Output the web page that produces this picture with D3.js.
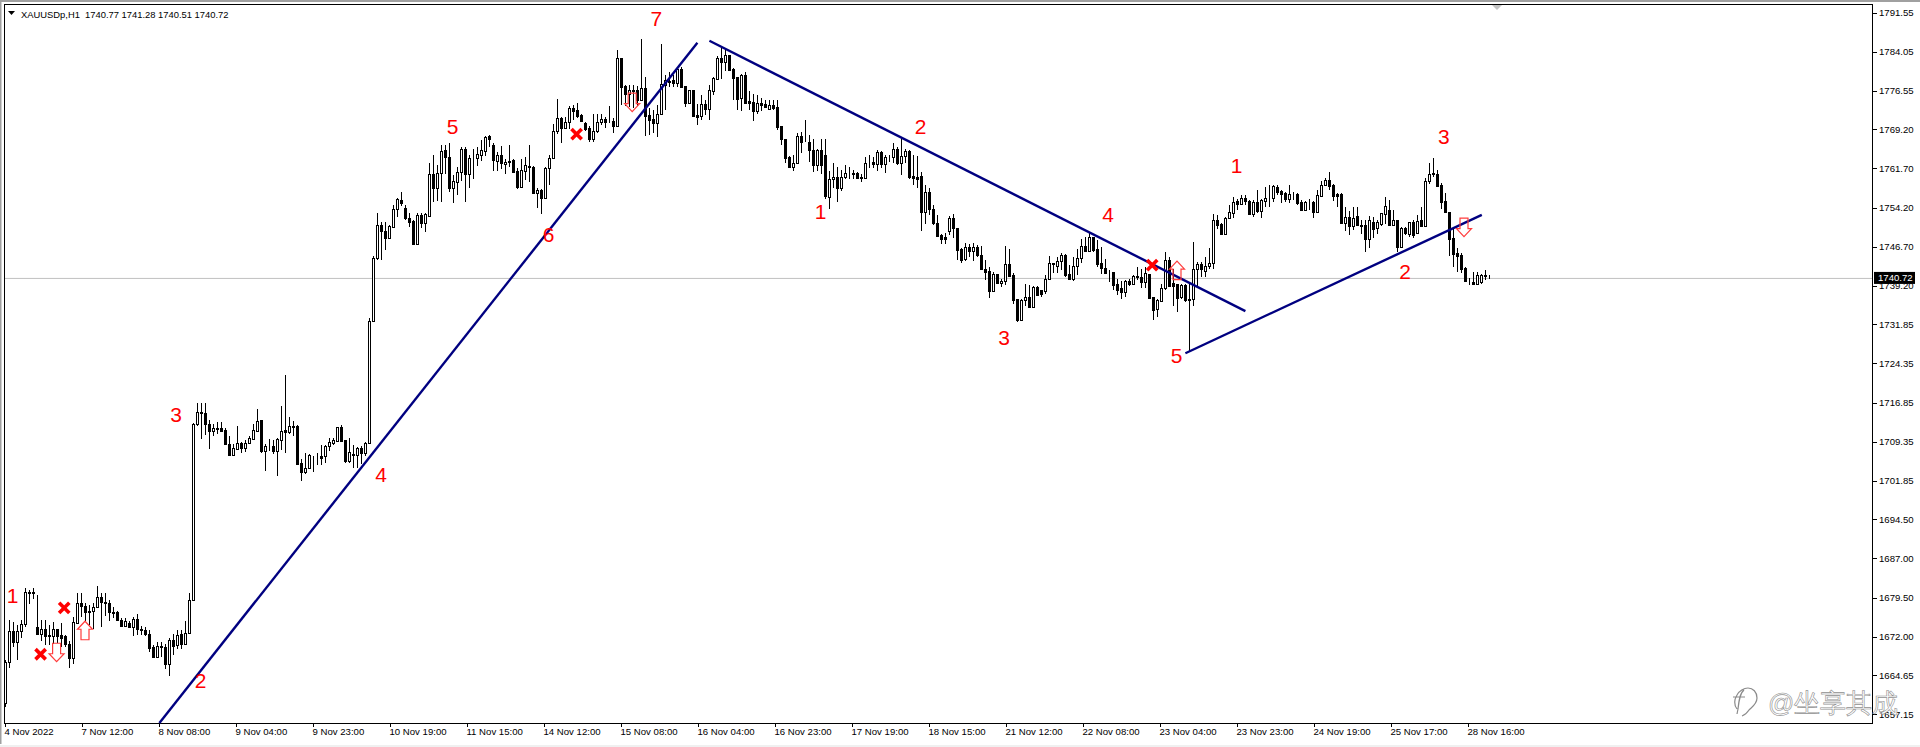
<!DOCTYPE html>
<html><head><meta charset="utf-8">
<script src="https://cdn.jsdelivr.net/npm/d3@7"></script>
<style>
html,body{margin:0;padding:0;background:#fff;overflow:hidden}
svg{display:block}
text{font-family:"Liberation Sans",Arial,sans-serif}
</style></head><body><div id="chart"></div>
<script>
// Each bar: [open, high, low, close]
const barsNov4to8 = [
[1659.3,1667.6,1658.6,1667.2],[1667.2,1675.3,1666.1,1673.1],[1673.1,1674.8,1670,1671],[1671,1674.2,1667.5,1673.1],[1673.1,1675.2,1671.8,1674.4],[1674.4,1681.4,1673.8,1680.5],[1680.6,1680.9,1678.2,1680.4],[1680.5,1681.4,1679.3,1680.3],[1673.9,1680,1672.5,1672.6],[1672.6,1675.2,1671.2,1673.4],
[1673.4,1675.2,1670.4,1672.1],[1672.4,1674.2,1670.4,1672.2],[1672.2,1674.8,1670.7,1673.4],[1673.4,1673.4,1670.8,1672.1],[1672.4,1674.6,1670,1671.8],[1672.1,1672.3,1670,1670.7],[1670.7,1671.2,1666,1668],[1668,1675.8,1666.7,1674.8],[1674.7,1680.4,1674.4,1678.4],[1678.4,1680.3,1675.8,1677.8],
[1677.8,1678.4,1675,1676.8],[1677,1678,1674.2,1676.8],[1676.9,1678.4,1673.4,1677.7],[1677.7,1681.7,1677.6,1679.6],[1679.6,1680.3,1673.8,1678.7],[1678.7,1680.3,1675.9,1678.4],[1678.4,1679,1675,1676.8],[1676.8,1677.7,1675.5,1676.6],[1676.7,1677,1675,1675.3],[1675.3,1675.5,1673.9,1674],
[1674,1675.5,1673.9,1675],[1674.7,1675,1673.8,1673.9],[1673.9,1675.8,1672.1,1675.4],[1675.4,1676.3,1672.3,1673.4],[1673.4,1674,1672.3,1673.2],[1673.2,1673.8,1672.1,1672.6],[1672.6,1673.2,1669.1,1669.9],[1670,1670.4,1668,1668.1],[1668.1,1671,1668,1670.2],[1670.2,1671,1668.1,1670],
[1670,1670.7,1665.9,1666.7],[1666.7,1671.7,1664.4,1671.3],[1671.3,1672.5,1668.5,1670.2],[1670.4,1673.2,1669.7,1672.4],[1672.6,1673.2,1669.7,1670.6],[1670.6,1675,1670.5,1672.8],[1672.7,1680.3,1672.6,1679],[1679,1712.9,1678.8,1712.8]
];
const barsNov8to10 = [
[1712.8,1716.7,1712.3,1715],[1715,1716.8,1709.9,1714.8],[1714.8,1716.7,1710.6,1712.8],[1712.8,1713.6,1708,1711.4],[1711.4,1712.8,1710.4,1711.9],[1712,1713.1,1710.9,1711.8],[1711.9,1713.2,1711.2,1711.4],[1711.6,1711.9,1708.7,1708.9],[1709,1710.4,1706.8,1706.8],[1706.9,1709,1706.8,1708.1],
[1708,1712.3,1708,1709.2],[1709.2,1709.3,1707.2,1708.1],[1708.1,1709.6,1707.4,1709.2],[1709.1,1710.4,1709,1710],[1709.9,1712.7,1709.8,1711.6],[1711.4,1715.7,1711.2,1713.4],[1713.5,1713.6,1707.1,1707.6],[1707.6,1709,1703.8,1708.6],[1708.6,1709.8,1707.6,1708.6],[1708.6,1709.6,1707,1707.6],
[1707.6,1710,1702.7,1709.8],[1709.6,1716.2,1707.7,1711.4],[1711.5,1722.1,1707.2,1711.3],[1711.2,1714.1,1710.9,1712.3],[1712.3,1713.3,1710.4,1712.2],[1712.3,1712.5,1704.8,1705],[1705.2,1706.1,1701.8,1703.6],[1703.5,1707.2,1703.2,1704.4],[1704.4,1707,1704.2,1706.8],[1706.5,1706.6,1703.6,1706.4],
[1706.6,1707.1,1704.9,1706.6],[1706.6,1708.7,1704.9,1706.3],[1706.6,1708.8,1705.2,1708.6],[1708.5,1710,1707.6,1709.3],[1709.1,1710,1708.7,1709.6],[1709.4,1712.2,1709.3,1712.1],[1712.1,1712.5,1709.5,1709.5],[1709.6,1709.6,1705.2,1705.7],[1705.6,1710,1705.2,1707.3],[1707,1708.7,1704.4,1706.9],
[1706.8,1708.4,1704.4,1708.1],[1708.1,1708.5,1705,1707.2],[1707.2,1709.3,1706.6,1709.2],[1709.1,1733,1709,1732.4],[1732.4,1745,1732.2,1744.5]
];
const barsNov10to15 = [
[1744.6,1753.1,1744.1,1750.8],[1750.8,1751.5,1744.1,1749.8],[1749.8,1751.5,1746,1748.3],[1748.3,1750.8,1748.2,1750.6],[1750.5,1754.7,1750.4,1754],[1754,1756.1,1752.4,1755.75],[1755.6,1757.1,1754.4,1755.1],[1754.2,1754.7,1751.9,1752.1],[1752.1,1753.1,1750.4,1751.5],[1751.7,1751.9,1747,1747.2],
[1747.3,1753.1,1747.2,1752.8],[1752.8,1753.2,1750.2,1751.2],[1751.2,1753.2,1749.6,1752.9],[1752.6,1762.8,1752.4,1760.6],[1760.6,1764.2,1755.3,1757.9],[1757.9,1762.3,1755.5,1760.9],[1760.9,1766.2,1755.3,1765.1],[1765.2,1766.2,1760.7,1763.8],[1763.8,1766.5,1757.2,1758],[1758,1760.4,1755,1759.2],
[1759.1,1761.9,1756.6,1761.1],[1761,1765.8,1759.3,1765.5],[1765.5,1765.7,1755.3,1760.7],[1760.7,1764.2,1758,1763.6],[1763.6,1765.5,1759.6,1763.6],[1763.6,1765.7,1762.1,1764.4],[1764.2,1767.2,1763.2,1765.2],[1765.1,1767.9,1764,1767.8],[1767.9,1768.1,1765.7,1767.4],[1766.2,1766.6,1761.2,1763.3],
[1763.2,1764.9,1761.2,1764.2],[1764.2,1765.97,1761.5,1762.65],[1762.6,1763.4,1760.7,1763],[1763.2,1766.2,1761.9,1763],[1763.3,1763.4,1760.9,1761],[1761.2,1761.7,1757.7,1758.2],[1758.2,1763.4,1758,1761.4],[1761.2,1763.9,1759.5,1762.3],[1762.1,1766.2,1759.1,1761.9],[1762,1762.1,1756.9,1757],
[1756.9,1757.9,1754.2,1757.5],[1757.5,1757.7,1752.9,1756],[1756,1762,1755.9,1761.7],[1761.7,1764.2,1758.5,1763.6],[1763.6,1770.2,1763.4,1768.9],[1768.9,1774.9,1768.3,1771.3],[1771.3,1771.6,1766.5,1769.4],[1769.4,1771.6,1769.3,1770.6],[1770.6,1773.6,1769.2,1773.2],[1773.2,1773.8,1771,1772.7],
[1772.9,1774.3,1771.3,1771.7],[1771.9,1772.2,1770.6,1770.8],[1770.3,1770.6,1768.9,1769.2],[1769.4,1769.8,1766.8,1767.4],[1767.4,1772.2,1766.8,1768.9],[1768.9,1772.2,1768.4,1770.6],[1770.6,1772.2,1770,1771.1],[1771.1,1771.6,1769.4,1770.6],[1770.7,1773.6,1770.3,1770.7],[1770.7,1771.3,1768.4,1769.9]
];
const barsNov15to17 = [
[1769.8,1784.4,1769.8,1782.8],[1782.9,1782.9,1773.8,1777.3],[1777.5,1777.7,1773.6,1775.9],[1775.9,1777.7,1773.4,1776.7],[1776.7,1777.7,1773.2,1776.6],[1776.7,1777.5,1773.6,1774.8],[1774.8,1786.4,1774.8,1777],[1777,1779.2,1767.9,1771.7],[1771.9,1773.2,1768.1,1771],[1771.1,1772.9,1768.4,1770.3],
[1770.3,1773.8,1767.8,1772.2],[1772.2,1785.6,1772.2,1777.8],[1777.7,1779.6,1772.9,1778.6],[1778.4,1780.2,1777.3,1778.2],[1778.6,1779.6,1777.3,1778.1],[1778.1,1780.8,1777.3,1780.7],[1780.7,1781.2,1777,1777.3],[1777.4,1777.5,1773.4,1774.3],[1774.3,1776.8,1774.1,1776.7],[1776.7,1776.8,1771.5,1771.7],
[1771.9,1774.1,1770,1771.6],[1771.7,1775.7,1770.9,1774],[1774,1774.8,1771.9,1773],[1773.1,1777.7,1770.9,1776.7],[1776.6,1779.2,1775.7,1779],[1778.9,1783.2,1778.7,1782.8],[1782.8,1784.7,1778.9,1782.1],[1782.1,1784.5,1780.4,1783.4],[1783.4,1783.4,1780.4,1780.5],[1780.7,1781,1774.8,1779.1],
[1779.2,1779.2,1772.9,1774.9],[1775.1,1779.8,1772.7,1779.6],[1779.6,1780.2,1774,1774.3],[1774.6,1776.6,1772.9,1774.3],[1774.5,1775.9,1770.8,1772.7],[1772.7,1775.7,1772.2,1774.3],[1774.3,1775.1,1772.7,1773.8],[1774.1,1774.8,1773.2,1773.5],[1773,1774.7,1772.9,1773.8],[1773.8,1774.8,1772.9,1773.3],
[1773.4,1774.8,1769,1769.7],[1769.8,1769.8,1766.2,1767.3],[1767.4,1767.4,1762.8,1763.7],[1763.9,1764.05,1761.9,1762],[1762,1764.2,1761.2,1762.8],[1762.8,1768.4,1762.6,1767.9],[1767.9,1768.7,1764.7,1766.8],[1766.8,1770.9,1766.8,1766.8],[1766.8,1768.1,1763,1765.2],[1765.3,1767.4,1761,1762.3],
[1762.3,1765.5,1761.2,1765.3],[1765.3,1767.4,1760.7,1762.3]
];
const barsNov17to22 = [
[1764.2,1767.4,1755.9,1756.4],[1756.3,1761.2,1754,1759.6],[1759.6,1762.8,1757.9,1760],[1760.1,1761.9,1755.3,1757.9],[1757.9,1761.4,1757.4,1760.1],[1760,1762.3,1759.6,1760.9],[1760.7,1762,1759.6,1760.7],[1760.8,1761.4,1759.6,1760.7],[1760.9,1761.05,1759.8,1759.9],[1760,1760.7,1759.1,1759.8],
[1759.8,1763.8,1759.7,1762.8],[1762.8,1764.2,1761.7,1762.8],[1763,1763.9,1761.7,1762.6],[1762.6,1765.3,1761.2,1764.8],[1764.8,1765.1,1761.7,1762.5],[1762.5,1764.2,1760.9,1763.8],[1763.8,1764.2,1762.97,1763.8],[1763.8,1766.6,1762.8,1765.5],[1765.5,1765.7,1762.3,1762.65],[1762.7,1767.8,1760.4,1764.05],
[1764,1765.5,1762.8,1765],[1765,1765.2,1759.6,1760],[1760.2,1764.2,1758.5,1759.9],[1760,1764.05,1757.9,1759.65],[1760.2,1761,1749.75,1753.4],[1753.4,1758.5,1751,1757.1],[1757.2,1757.9,1752.75,1754],[1754,1754.7,1750.8,1751.15],[1751.15,1752.75,1748.7,1748.8],[1748.85,1749.2,1747.2,1748.15],
[1748.6,1749.4,1747.3,1748.2],[1749.75,1752.55,1748.9,1752.1],[1752.1,1752.95,1748.3,1750.2],[1750.2,1750.2,1744.1,1746.05],[1746.2,1746.4,1743.6,1744.1],[1744.25,1747.45,1744,1746.55],[1746.55,1747.3,1744.65,1745.9],[1745.9,1747.45,1744,1746.55],[1746.7,1747,1744.8,1745.1],[1745.1,1746.8,1742.2,1742.4],
[1742.4,1744.1,1740.4,1741.9],[1742,1742.85,1736.8,1738.25],[1738.25,1741.9,1738.05,1741.55],[1741.55,1741.55,1739.65,1739.8],[1739.8,1740.6,1739,1740.2],[1740.2,1746.8,1739.3,1743.35],[1743.35,1746.35,1740.9,1741.05],[1741.25,1741.7,1735.8,1736.45],[1736.6,1736.6,1732.3,1732.75],[1732.75,1736.6,1732.6,1736.45],
[1736.4,1739.5,1735.3,1737],[1737,1739.35,1735.2,1735.2],[1735.2,1739.15,1735.2,1739],[1739,1739.15,1737.4,1737.4],[1738.4,1738.5,1737.1,1737.6],[1738.2,1741.25,1737.6,1740.6],[1740.6,1744.9,1740.3,1743.5],[1743.5,1743.6,1741.7,1743.3],[1743.05,1744.8,1741.7,1744.05],[1744,1745.5,1742.2,1745.1],
[1745.1,1745.3,1740.9,1741.25],[1741.45,1743.2,1740.4,1740.6],[1740.6,1744.8,1740.2,1743],[1743,1746.2,1741.25,1744.45],[1744.45,1748.1,1743.6,1746.8],[1746.8,1748.6,1745.7,1745.9],[1745.9,1749.4,1745.7,1748.6],[1748.5,1748.6,1745.7,1746.05],[1746.2,1747.95,1742.85,1743.35]
];
const barsNov22to24 = [
[1743.6,1746.6,1741.45,1742.7],[1742.7,1744.3,1741.45,1741.6],[1741.85,1742.2,1740,1741.8],[1741.85,1741.9,1738.5,1739.35],[1739.5,1740.6,1737.4,1738.4],[1738.7,1740.2,1736.7,1738.05],[1738.05,1740.4,1737.1,1740.2],[1740.2,1740.6,1739.15,1739.55],[1739.55,1741.25,1739.35,1741.05],[1741,1742.85,1740.3,1740.9],
[1740.9,1742.5,1738.7,1740],[1740,1742.85,1738.7,1741.6],[1741.45,1741.45,1736.6,1736.8],[1737,1737,1732.65,1734.55],[1734.75,1736.6,1733.15,1736.5],[1736.35,1739.65,1736.15,1738.7],[1738.7,1745.7,1738.5,1744.1],[1744.1,1744.8,1738.9,1739.15],[1739.7,1742.5,1735.3,1739.15],[1739.55,1739.65,1734.25,1736.9],
[1736.98,1739.65,1736.6,1739.3],[1739.35,1739.5,1736.15,1736.5],[1736.6,1739.5,1726.6,1736.5],[1736.6,1747.65,1735.3,1742.5],[1742.5,1743.8,1739,1743.3],[1743.3,1743.8,1740.95,1742.4],[1742.1,1744.65,1740.95,1743.05],[1743,1746.4,1742.5,1743.5],[1743.5,1753.05,1742.5,1751.8],[1751.8,1752.75,1750,1750.85],
[1751,1751.3,1748.9,1749.1],[1749.1,1752.4,1748.9,1752.1],[1752.1,1754.65,1752.1,1753.25],[1753.2,1756.25,1752.1,1755.3],[1755.4,1755.75,1753.7,1754.85],[1754.85,1756.6,1754.65,1756.1],[1756.1,1756.6,1754.65,1755.5],[1755.5,1755.6,1752.95,1753.05],[1753.05,1755.6,1752.4,1755.3],[1755.3,1757.5,1753.2,1753.5],
[1753.6,1755.9,1752.2,1755.6],[1755.5,1758.2,1754.35,1756.1],[1756.1,1758.5,1754.35,1756.1],[1756.1,1758.5,1755.3,1758.3],[1758.2,1758.5,1756.6,1757.2],[1757.4,1757.65,1755,1756.75],[1757,1757.2,1755.3,1755.9],[1755.9,1758.5,1755,1756.75],[1756.8,1757.2,1755.6,1756.8],[1756.75,1757,1754.65,1755.1]
];
const barsNov24to28 = [
[1755.3,1755.6,1753.7,1753.7],[1753.7,1755.5,1753.7,1755.3],[1755.2,1755.9,1753.8,1755.2],[1755.3,1755.5,1752.2,1753.3],[1753.3,1757.5,1753.2,1756.6],[1756.4,1759.3,1756.25,1758.5],[1758.5,1759.8,1758.3,1759.45],[1759.45,1761,1757.65,1758.4],[1758.5,1758.8,1755.5,1756.4],[1756.75,1757,1754.35,1756.45],
[1756.75,1756.9,1751.3,1751.3],[1751.3,1754.35,1749.7,1752.3],[1752.3,1753.6,1748.9,1750.65],[1750.65,1754.35,1749.9,1752.2],[1752.5,1754.35,1750.65,1750.8],[1750.95,1751.9,1749.1,1750.7],[1750.8,1751.8,1745.7,1748.1],[1748.2,1752.6,1746.4,1751.8],[1751.5,1752.4,1748.3,1750.1],[1750.2,1751.8,1749.2,1751.4],
[1751,1753.2,1750.6,1753.1],[1752.9,1756.3,1751,1754.5],[1753.8,1755.6,1750.8,1750.8],[1750.8,1753.7,1750.6,1751.8],[1751.8,1751.9,1745.7,1746.7],[1746.7,1750.5,1746.6,1750.2],[1750.3,1750.5,1748.9,1749.4],[1749.2,1751.5,1748.6,1751.4],[1751.4,1751.8,1748.3,1748.9],[1749.4,1752.75,1749.2,1751.65],
[1751.8,1754.35,1750.4,1750.65],[1750.65,1759.8,1750.5,1759.2],[1759.2,1762.65,1758.8,1760.7],[1760.8,1763.6,1760.1,1760.6],[1760.6,1761.4,1758.3,1758.4],[1758.5,1758.9,1754,1755.3],[1755.4,1756.9,1753.1,1753.4],[1753.4,1753.4,1744.9,1748.2],[1748.3,1750.2,1742.85,1745.3],[1745.4,1746.4,1741.9,1745],
[1745.1,1745.4,1741.7,1742.5],[1742.65,1742.85,1740.15,1740.15],[1740.2,1740.8,1739.3,1740.1],[1740,1741.9,1739.5,1739.65],[1739.65,1741.9,1739.5,1741.25],[1739.9,1741.4,1739.5,1741.2],[1741.2,1742.3,1740.3,1741],[1740.77,1741.28,1740.51,1740.72]
];
const priceTicks = ["1791.55","1784.05","1776.55","1769.20","1761.70","1754.20","1746.70","1739.20","1731.85","1724.35","1716.85","1709.35","1701.85","1694.50","1687.00","1679.50","1672.00","1664.65","1657.15"];
const timeLabels = ["4 Nov 2022","7 Nov 12:00","8 Nov 08:00","9 Nov 04:00","9 Nov 23:00","10 Nov 19:00","11 Nov 15:00","14 Nov 12:00","15 Nov 08:00","16 Nov 04:00","16 Nov 23:00","17 Nov 19:00","18 Nov 15:00","21 Nov 12:00","22 Nov 08:00","23 Nov 04:00","23 Nov 23:00","24 Nov 19:00","25 Nov 17:00","28 Nov 16:00"];
const lastPrice = 1740.72;
const chartTitle = "XAUUSDp,H1  1740.77 1741.28 1740.51 1740.72";
// Trend lines: [bar, price, bar, price]
const trendLines = [[38.6,1655.5,173.1,1785.76],[176.1,1786.14,310.1,1734.36],[295.1,1726.3,369.2,1752.8]];
// Wave labels: [bar, price, text]
const waveLabels = [[1.9,1679.96,"1"],[48.9,1663.67,"2"],[42.75,1714.63,"3"],[94,1703.14,"4"],[111.9,1769.67,"5"],[135.9,1749.11,"6"],[162.85,1790.49,"7"],[203.9,1753.38,"1"],[228.9,1769.67,"2"],[249.75,1729.38,"3"],[275.8,1752.94,"4"],[292.9,1725.93,"5"],[307.9,1762.2,"1"],[350,1741.89,"2"],[359.7,1767.89,"3"]];
const crossMarks = [[8.9,1668.65],[14.8,1677.52],[142.9,1768.27],[286.8,1743.17]];
const arrowMarks = [[12.9,1668.94,"down"],[20,1673.25,"up"],[156.8,1774.3,"down"],[293,1742.22,"up"],[364.75,1750.36,"down"]];
const watermark = "@坐享其成";

const candles = [...barsNov4to8,...barsNov8to10,...barsNov10to15,...barsNov15to17,...barsNov17to22,...barsNov22to24,...barsNov24to28];

const W=1920,H=747, frame={l:4,t:4,r:1872,b:723};
const svg=d3.select("#chart").append("svg").attr("width",W).attr("height",H);
const x=d3.scaleLinear().domain([0,371]).range([5,1489]);
const y=d3.scaleLinear().domain([1791.55,1657.15]).range([12.5,714.3]);
const xAxisScale=d3.scalePoint().domain(timeLabels).range([5,1468]);
const px=v=>Math.round(v);

// window chrome
svg.append("rect").attr("width",W).attr("height",H).attr("fill","#fff");
svg.append("rect").attr("width",W).attr("height",2).attr("fill","#a0a0a0");
svg.append("rect").attr("width",1.5).attr("height",H-3).attr("fill","#a0a0a0");
svg.append("rect").attr("y",H-2).attr("width",W).attr("height",2).attr("fill","#f0f0f0");

// price line
svg.append("line").attr("x1",frame.l).attr("x2",frame.r).attr("y1",y(lastPrice)+.5).attr("y2",y(lastPrice)+.5).attr("stroke","#c0c0c0").attr("stroke-width",1);

// chart-shift marker
svg.append("path").attr("d",d3.line()([[1491,4],[1503,4],[1497,10]])+"Z").attr("fill","#c4c4c4");

// candles
const g=svg.append("g").attr("shape-rendering","crispEdges");
const c=g.selectAll("g").data(candles).join("g");
c.append("line").attr("x1",(d,i)=>px(x(i))+.5).attr("x2",(d,i)=>px(x(i))+.5)
 .attr("y1",d=>y(d[1])).attr("y2",d=>y(d[2])).attr("stroke","#000");
c.append("rect").attr("x",(d,i)=>px(x(i))-.5).attr("width",2)
 .attr("y",d=>px(y(Math.max(d[0],d[3])))+.5)
 .attr("height",d=>Math.max(px(y(Math.min(d[0],d[3])))-px(y(Math.max(d[0],d[3]))),0))
 .attr("fill",d=>d[3]>=d[0]?"#fff":"#000").attr("stroke","#000");

// frame
svg.append("rect").attr("x",frame.l+.5).attr("y",frame.t+.5).attr("width",frame.r-frame.l).attr("height",frame.b-frame.t)
 .attr("fill","none").attr("stroke","#000").attr("shape-rendering","crispEdges");

// trend lines
svg.append("g").selectAll("line").data(trendLines).join("line")
 .attr("x1",d=>x(d[0])).attr("y1",d=>y(d[1])).attr("x2",d=>x(d[2])).attr("y2",d=>y(d[3]))
 .attr("stroke","#000080").attr("stroke-width",2.4);

// crosses
svg.append("g").selectAll("path").data(crossMarks).join("path")
 .attr("d",d3.symbol(d3.symbolX,70)).attr("transform",d=>`translate(${x(d[0])},${y(d[1])})`)
 .attr("fill","none").attr("stroke","#ff0000").attr("stroke-width",3.6);

// arrows
const arrowPath=d3.line()([[-4,-9.5],[4,-9.5],[4,1],[7.5,1],[0,9],[-7.5,1],[-4,1]])+"Z";
svg.append("g").selectAll("path").data(arrowMarks).join("path")
 .attr("d",arrowPath).attr("transform",d=>`translate(${x(d[0])},${y(d[1])})${d[2]==="up"?" rotate(180)":""}`)
 .attr("fill","none").attr("stroke","#ff3c3c").attr("stroke-width",1.2);

// wave labels
svg.append("g").selectAll("text").data(waveLabels).join("text")
 .attr("x",d=>x(d[0])).attr("y",d=>y(d[1])).attr("dy","0.36em").attr("text-anchor","middle")
 .attr("font-size",21).attr("fill","#ff0000").text(d=>d[2]);

// axes
const yAxis=d3.axisRight(y).tickValues(priceTicks.map(Number)).tickFormat(d=>d.toFixed(2)).tickSize(4).tickSizeOuter(0);
const ya=svg.append("g").attr("transform",`translate(${frame.r+.5},0)`).call(yAxis);
ya.select(".domain").remove();
ya.selectAll("line").attr("stroke","#000").attr("shape-rendering","crispEdges");
ya.selectAll("text").attr("x",6.5).attr("font-size",9.6).attr("fill","#000").attr("font-family","Liberation Sans");

const xAxis=d3.axisBottom(xAxisScale).tickSize(3).tickSizeOuter(0);
const xa=svg.append("g").attr("transform",`translate(0,${frame.b+.5})`).call(xAxis);
xa.select(".domain").remove();
xa.selectAll("line").attr("stroke","#000").attr("shape-rendering","crispEdges");
xa.selectAll("text").attr("text-anchor","start").attr("dx",-1).attr("y",5).attr("font-size",9.6).attr("fill","#000").attr("font-family","Liberation Sans");

// price tag
svg.append("rect").attr("x",1874).attr("y",y(lastPrice)-6).attr("width",41).attr("height",12).attr("fill","#000");
svg.append("text").attr("x",1878).attr("y",y(lastPrice)).attr("dy","0.36em").attr("font-size",9.6).attr("fill","#fff").text(lastPrice.toFixed(2));

// title
svg.append("path").attr("d",d3.line()([[8,11],[15,11],[11.5,15]])+"Z").attr("fill","#000");
svg.append("text").attr("x",21).attr("y",17.5).attr("font-size",9.4).attr("fill","#000").attr("xml:space","preserve").style("white-space","pre").text(chartTitle);

// watermark
const wm=svg.append("g");
wm.append("path").attr("d","M1737 709c-3-4-3-9 0-14 2-4 7-7 11-7 5 0 9 4 9 10 0 6-5 9-8 12-2 3-4 5-7 6 M1744 690c-4 3-5 10-6 19l-1 5 M1733 697h12")
 .attr("fill","none").attr("stroke","#8a8a8a").attr("stroke-width",1.2);
wm.append("text").attr("x",1768).attr("y",712).attr("font-size",26).attr("font-family","Noto Sans CJK SC")
 .attr("fill","#fff").attr("stroke","#8f8f8f").attr("stroke-width",.6).text(watermark);
</script></body></html>
